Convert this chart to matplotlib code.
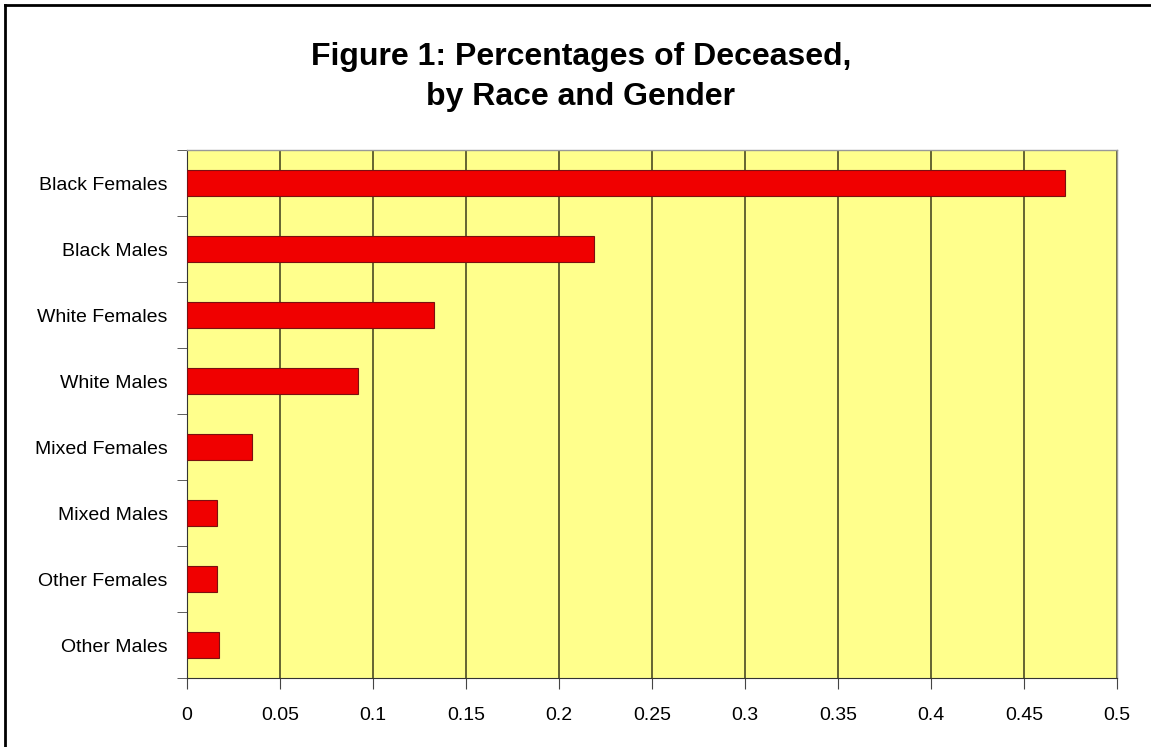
import matplotlib.pyplot as plt
import numpy as np
from matplotlib.lines import Line2D

categories = ['Black Females', 'Black Males', 'White Females', 'White Males',
              'Mixed Females', 'Mixed Males', 'Other Females', 'Other Males']
values = [0.472, 0.219, 0.133, 0.092, 0.035, 0.016, 0.016, 0.017]
xticks = [0, 0.05, 0.1, 0.15, 0.2, 0.25, 0.3, 0.35, 0.4, 0.45, 0.5]
xtick_labels = ['0', '0.05', '0.1', '0.15', '0.2', '0.25', '0.3', '0.35', '0.4', '0.45', '0.5']

plt.rcParams['font.family'] = ['Liberation Sans', 'DejaVu Sans']

fig = plt.figure(figsize=(11.51, 7.47), dpi=100)
fig.patch.set_facecolor('white')

# frame around the figure (top and left edges dark)
W, H = 1151, 747
fig.add_artist(Line2D([5 / W, 1], [1 - 5 / H, 1 - 5 / H], transform=fig.transFigure,
                      color='black', lw=2))
fig.add_artist(Line2D([5 / W, 5 / W], [0, 1 - 5 / H], transform=fig.transFigure,
                      color='black', lw=2))

ax = fig.add_axes([187 / W, 1 - 678 / H, (1117 - 187) / W, (678 - 150) / H])
ax.set_facecolor('#FFFF8C')

y = np.arange(len(categories))
ax.barh(y, values, height=0.4, color='#F00000', edgecolor='#7A1010', linewidth=0.8,
        zorder=3)

ax.set_xlim(0, 0.5)
ax.set_ylim(len(categories) - 0.5, -0.5)

ax.set_xticks(xticks)
ax.set_xticklabels(xtick_labels, fontsize=14)
ax.set_yticks(y)
ax.set_yticklabels(categories, fontsize=14)
ax.tick_params(axis='y', length=0, pad=14)
ax.set_yticks(np.arange(-0.5, len(categories), 1), minor=True)
ax.tick_params(axis='y', which='minor', length=7, direction='out', color='#444444')
ax.tick_params(axis='x', length=8, direction='out', color='#444444', pad=13)

ax.grid(axis='x', color='#3A3A1A', linewidth=1.1, zorder=1)
ax.set_axisbelow(True)

for side in ['top', 'right']:
    ax.spines[side].set_color('#999999')
    ax.spines[side].set_linewidth(1)
ax.spines['left'].set_color('#333333')
ax.spines['bottom'].set_color('#333333')

fig.text(581 / W, 1 - 57 / H, 'Figure 1: Percentages of Deceased,', ha='center',
         va='center', fontsize=23, fontweight='bold')
fig.text(581 / W, 1 - 97 / H, 'by Race and Gender', ha='center', va='center',
         fontsize=23, fontweight='bold')

fig.savefig('out.png', dpi=100)
